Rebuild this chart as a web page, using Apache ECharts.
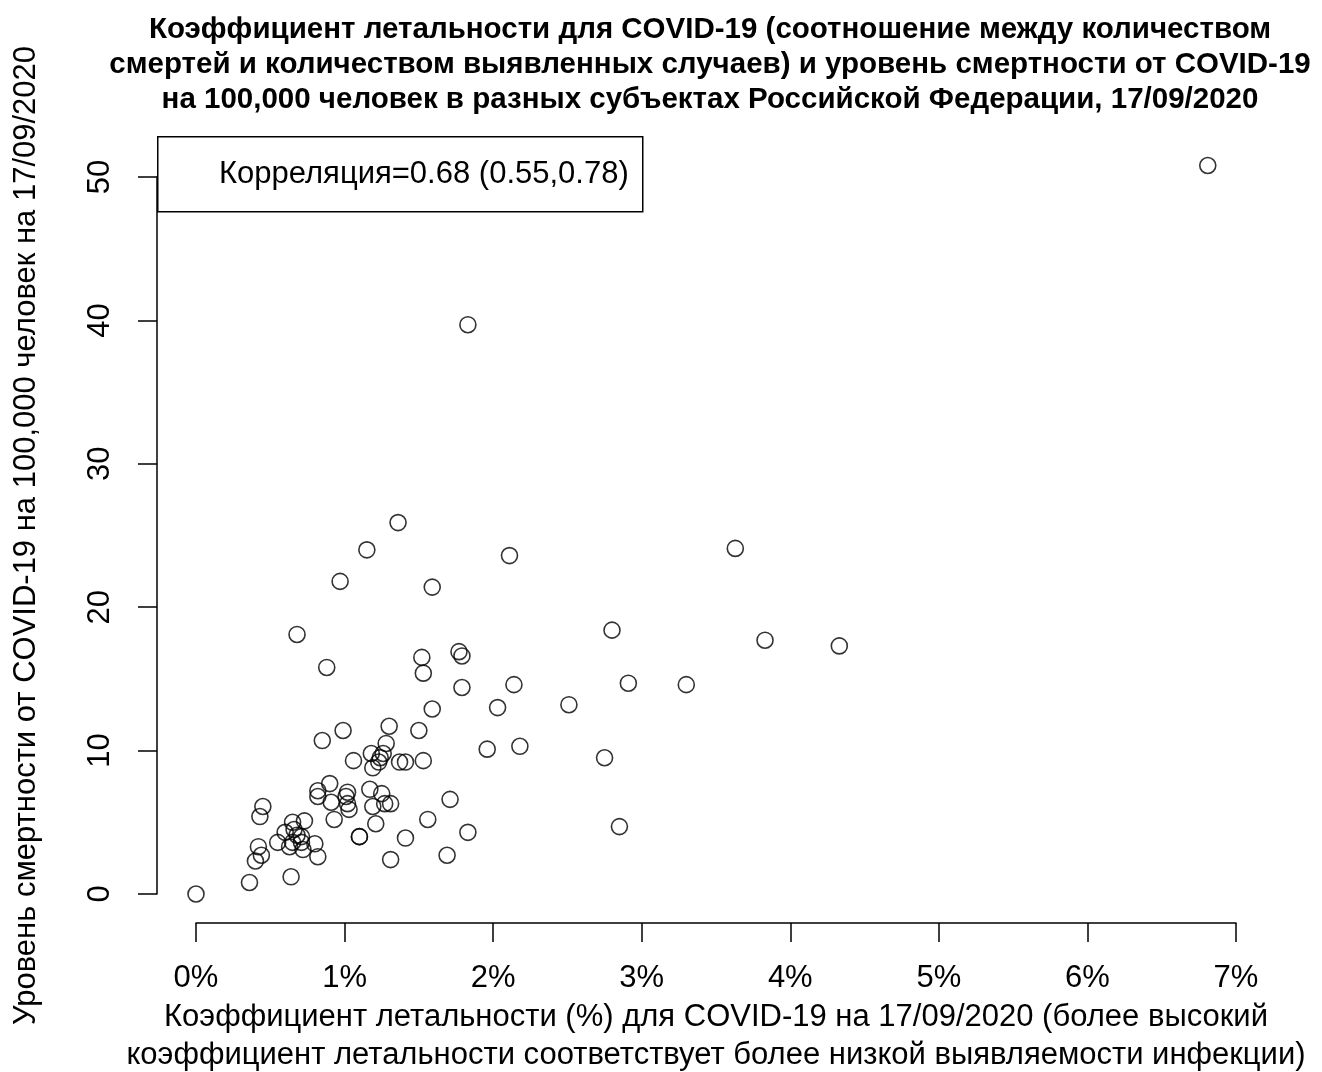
<!DOCTYPE html>
<html>

<head>
  <meta charset="utf-8">
  <title>COVID-19 scatter</title>
  <script src="https://cdn.jsdelivr.net/npm/echarts@6/dist/echarts.min.js"></script>
</head>

<body style="margin:0">
  <div id="main" style="width:1322px;height:1072px;"></div>
  <script type="text/javascript">
    // коэффициент летальности, %
    var cfr = [
      6.81, 1.83, 1.36, 1.15, 2.11, 3.63, 0.97, 1.59, 0.68, 2.80,
      3.83, 4.33, 0.88, 1.52, 1.53, 1.77, 1.79, 1.79, 2.14, 2.91,
      3.30, 1.59, 2.03, 2.51, 0.99, 1.30, 1.50, 0.85, 1.28, 1.96,
      2.18, 2.75, 1.06, 1.18, 1.26, 1.24, 1.23, 1.19, 1.37, 1.41,
      1.53, 0.90, 0.82, 0.82, 0.91, 1.02, 1.01, 1.02, 1.03, 0.93,
      1.17, 1.25, 1.19, 1.27, 1.31, 1.71, 1.21, 1.56, 2.85, 1.10,
      1.10, 1.41, 1.83, 1.31, 1.69, 0.45, 0.43, 0.65, 0.73, 0.60,
      0.66, 0.68, 0.71, 0.55, 0.65, 0.71, 0.63, 0.72, 0.80, 0.82,
      0.42, 0.44, 0.40, 0.36, 0.64, 0
    ];
    // смертность на 100 000
    var mortality = [
      50.8, 39.7, 25.9, 24.0, 23.6, 24.1, 21.8, 21.4, 18.1, 18.4,
      17.7, 17.3, 15.8, 16.5, 15.4, 16.9, 16.6, 14.4, 14.6, 14.7,
      14.6, 12.9, 13.0, 13.2, 11.4, 11.7, 11.4, 10.7, 10.5, 10.1,
      10.3, 9.5, 9.3, 9.8, 9.8, 9.5, 9.2, 8.8, 9.2, 9.2,
      9.3, 7.7, 7.2, 6.8, 6.4, 7.1, 6.8, 6.3, 5.9, 5.2,
      7.3, 7.0, 6.1, 6.3, 6.3, 6.6, 4.9, 5.2, 4.7, 4.0,
      4.0, 3.9, 4.3, 2.4, 2.7, 6.1, 5.4, 5.0, 5.1, 4.3,
      4.5, 4.1, 4.0, 3.6, 3.6, 3.6, 3.3, 3.1, 3.5, 2.6,
      3.3, 2.7, 2.3, 0.8, 1.2, 0
    ];
    var titleLines = [
      'Коэффициент летальности для COVID-19 (соотношение между количеством',
      'смертей и количеством выявленных случаев) и уровень смертности от COVID-19',
      'на 100,000 человек в разных субъектах Российской Федерации, 17/09/2020'
    ];
    var xName = 'Коэффициент летальности (%) для COVID-19 на 17/09/2020 (более высокий\nкоэффициент летальности соответствует более низкой выявляемости инфекции)';
    var yName = 'Уровень смертности от COVID-19 на 100,000 человек на 17/09/2020';
    var corrText = 'Корреляция=0.68 (0.55,0.78)';

    var points = cfr.map(function (v, i) { return [v, mortality[i]]; });
    var font = '"Liberation Sans", Arial, sans-serif';

    var myChart = echarts.init(document.getElementById('main'));
    var option = {
      backgroundColor: '#fff',
      animation: false,
      textStyle: { fontFamily: font, color: '#000' },
      title: {
        text: titleLines.join('\n'),
        left: 705,
        top: 7,
        textAlign: 'center',
        textStyle: { fontFamily: font, fontSize: 29.5, fontWeight: 'bold', lineHeight: 35, color: '#000' }
      },
      grid: { left: 196, top: 177, width: 1040, height: 717, outerBoundsMode: 'none', containLabel: false },
      xAxis: {
        type: 'value',
        min: 0, max: 7, interval: 1,
        offset: 29,
        splitLine: { show: false },
        axisLine: { show: true, onZero: false, lineStyle: { color: '#000', width: 1.5 } },
        axisTick: { show: true, length: 19, lineStyle: { color: '#000', width: 1.5 } },
        axisLabel: { margin: 40, fontSize: 31, color: '#000', fontFamily: font, formatter: '{value}%' },
        name: xName,
        nameLocation: 'middle',
        nameGap: 75,
        nameTextStyle: { fontSize: 31, lineHeight: 38, color: '#000', fontFamily: font }
      },
      yAxis: {
        type: 'value',
        min: 0, max: 50, interval: 10,
        offset: 39,
        splitLine: { show: false },
        axisLine: { show: true, onZero: false, lineStyle: { color: '#000', width: 1.5 } },
        axisTick: { show: true, length: 19, lineStyle: { color: '#000', width: 1.5 } },
        axisLabel: { margin: 41, rotate: 90, fontSize: 31, color: '#000', fontFamily: font },
        name: yName,
        nameLocation: 'middle',
        nameRotate: 90,
        nameGap: 115,
        nameTextStyle: { fontSize: 31, color: '#000', fontFamily: font }
      },
      graphic: [{
        type: 'group',
        left: 157,
        top: 136,
        children: [
          { type: 'rect', shape: { x: 0, y: 0, width: 485, height: 75 }, style: { fill: '#fff', stroke: '#000', lineWidth: 1.5 } },
          { type: 'text', x: 471, y: 38, style: { text: corrText, font: '31px ' + font, fill: '#000', textAlign: 'right', textVerticalAlign: 'middle' } }
        ]
      }],
      series: [{
        type: 'scatter',
        data: points,
        clip: false,
        symbol: 'circle',
        symbolSize: 16,
        itemStyle: { color: 'rgba(0,0,0,0)', borderColor: '#000', borderWidth: 1.6 },
        emphasis: { disabled: true }
      }]
    };
    myChart.setOption(option);
  </script>
</body>

</html>
